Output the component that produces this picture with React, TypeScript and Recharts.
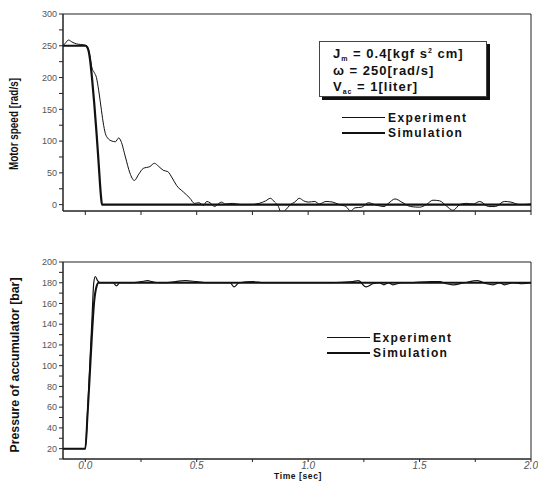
import React from "react";
import {
  LineChart,
  Line,
  XAxis,
  YAxis,
  Legend,
  ReferenceArea,
} from "recharts";

// top panel: motor speed
const speedExpTime = [
  -0.1, -0.09, -0.075, -0.06, -0.04, -0.02, 0.0, 0.01, 0.02, 0.03, 0.04, 0.05,
  0.06, 0.07, 0.08, 0.09, 0.1, 0.12, 0.135, 0.15, 0.16, 0.18, 0.2, 0.22, 0.24,
  0.26, 0.29, 0.31, 0.33, 0.35, 0.37, 0.39, 0.41, 0.44, 0.47, 0.49, 0.51, 0.53,
  0.545, 0.56, 0.58, 0.6, 0.61, 0.63, 0.66, 0.7, 0.74, 0.78, 0.81, 0.83, 0.85,
  0.865, 0.88, 0.9, 0.92, 0.94, 0.96, 0.98, 1.0, 1.03, 1.05, 1.08, 1.11, 1.14,
  1.17, 1.19, 1.21, 1.24, 1.27, 1.3, 1.34, 1.36, 1.39, 1.42, 1.46, 1.5, 1.53,
  1.56, 1.59, 1.62, 1.65, 1.68, 1.71, 1.74, 1.77, 1.81, 1.84, 1.88, 1.91, 1.95,
  2.0,
];
const speedExpValue = [
  250, 254, 259, 256, 253, 252, 251, 248, 235, 215, 208, 200, 180, 155, 130,
  112, 105, 100, 99, 105, 100, 75, 50, 38, 48, 57, 60, 65, 60, 54, 52, 42, 30,
  20, 10, 2, 3, -1, 5, 3, -3, 2, 4, 1, 2, 0, 0, 2, 6, 10, 4, -2, -13, -8, 0, 4,
  10, 6, 4, 5, 1, 5, 4, 0, -3, -10, -5, -4, 3, 0, -3, 2, 9, 4, -3, -4, 0, 7, 6,
  -2, -9, 0, 2, 1, 5, -3, -3, 5, 4, 0, 1,
];
const speedSimTime = [-0.1, 0.0, 0.01, 0.02, 0.03, 0.04, 0.05, 0.06, 0.07, 0.075, 2.0];
const speedSimValue = [250, 250, 247, 232, 200, 160, 115, 65, 15, 0, 0];

// bottom panel: accumulator pressure
const presExpTime = [
  -0.1, 0.0, 0.01, 0.02, 0.03, 0.038, 0.045, 0.055, 0.065, 0.1, 0.125, 0.14,
  0.155, 0.2, 0.25, 0.28, 0.3, 0.33, 0.36, 0.45, 0.5, 0.55, 0.6, 0.65, 0.667,
  0.69, 0.75, 0.8, 0.9, 1.0, 1.1, 1.2, 1.225, 1.26, 1.29, 1.32, 1.34, 1.36,
  1.38, 1.42, 1.45, 1.55, 1.59, 1.62, 1.65, 1.7, 1.76, 1.8, 1.83, 1.86, 1.88,
  1.92, 1.96, 2.0,
];
const presExpValue = [
  20, 20, 55, 100, 145, 180, 186, 182, 180, 180, 180, 177, 180, 180, 181, 182,
  181, 180, 180, 182, 181, 180, 180, 180, 176, 180, 181, 180, 180, 180, 180,
  181, 182, 176, 179, 180, 178, 180, 178, 180, 180, 181, 181, 179, 178, 180,
  182, 179, 178, 180, 178, 180, 179, 180,
];
const presSimTime = [-0.1, 0.0, 0.01, 0.02, 0.03, 0.04, 0.05, 0.06, 2.0];
const presSimValue = [20, 20, 52, 90, 130, 162, 176, 180, 180];

const xTicks = [0, 0.25, 0.5, 0.75, 1.0, 1.25, 1.5, 1.75, 2.0];
const speedTicks = [0, 25, 50, 75, 100, 125, 150, 175, 200, 225, 250, 275, 300];
const presTicks = [10, 20, 30, 40, 50, 60, 70, 80, 90, 100, 110, 120, 130, 140, 150, 160, 170, 180, 190, 200];

const zip = (t: number[], v: number[]) => t.map((x, i) => ({ t: x, v: v[i] }));

const sans = "Liberation Sans, Arial";
const tickFont = { fontSize: 9, fill: "#555", fontFamily: sans };

function LegendRows({ lineW }: { lineW: number }) {
  const row = (label: string, thick: number) => (
    <div style={{ display: "flex", alignItems: "center", height: 15 }}>
      <div style={{ width: lineW, borderTop: `${thick}px solid #111`, marginRight: 3 }} />
      <span style={{ fontFamily: sans, fontWeight: "bold", fontSize: 12, letterSpacing: 1.4, color: "#111" }}>
        {label}
      </span>
    </div>
  );
  return (
    <div>
      {row("Experiment", 1)}
      {row("Simulation", 2)}
    </div>
  );
}

function ParamBox() {
  const sub = { fontSize: 7, position: "relative" as const, top: 3 };
  const sup = { fontSize: 7, position: "relative" as const, top: -5 };
  const line = { height: 16.5, lineHeight: "16.5px", whiteSpace: "nowrap" as const };
  return (
    <div
      style={{
        position: "absolute",
        left: 319,
        top: 41,
        width: 168,
        height: 56,
        boxSizing: "border-box",
        paddingLeft: 13,
        paddingTop: 4,
        border: "1px solid #444",
        boxShadow: "3px 3px 0 #111",
        background: "#fff",
        fontFamily: sans,
        fontWeight: "bold",
        fontSize: 13,
        color: "#111",
        letterSpacing: 1,
      }}
    >
      <div style={line}>
        J<span style={sub}>m</span> = 0.4[kgf s<span style={sup}>2</span> cm]
      </div>
      <div style={line}>ω = 250[rad/s]</div>
      <div style={line}>
        V<span style={sub}>ac</span> = 1[liter]
      </div>
    </div>
  );
}

function YTitle({ text, x, y, len }: { text: string; x: number; y: number; len: number }) {
  return (
    <text
      x={x}
      y={y}
      transform={`rotate(-90 ${x} ${y})`}
      textAnchor="middle"
      dominantBaseline="central"
      fontFamily={sans}
      fontWeight="bold"
      fontSize={13}
      textLength={len}
      lengthAdjust="spacingAndGlyphs"
      fill="#111"
    >
      {text}
    </text>
  );
}

export default function App() {
  return (
    <div style={{ position: "absolute", left: 0, top: 0, width: 538, height: 484, background: "#fff" }}>
      <div style={{ position: "absolute", left: 0, top: 0 }}>
        <LineChart width={538} height={230} margin={{ top: 14, right: 7, bottom: 0, left: 0 }}>
          <XAxis
            type="number"
            dataKey="t"
            domain={[-0.1, 2]}
            ticks={xTicks}
            tickFormatter={() => ""}
            height={19}
            tickSize={4}
            stroke="#222"
            allowDataOverflow
          />
          <YAxis
            type="number"
            domain={[-10, 300]}
            ticks={speedTicks}
            tickFormatter={(v: number) => (v % 50 === 0 ? String(v) : "")}
            width={63}
            tickSize={4}
            stroke="#222"
            tick={tickFont}
            allowDataOverflow
            label={{ content: () => <YTitle text="Motor speed [rad/s]" x={13} y={124} len={92} /> }}
          />
          <ReferenceArea x1={-0.1} x2={2} y1={-10} y2={300} fill="none" stroke="#222" ifOverflow="visible" />
          <Line
            data={zip(speedExpTime, speedExpValue)}
            dataKey="v"
            type="monotone"
            stroke="#111"
            strokeWidth={1}
            dot={false}
            isAnimationActive={false}
          />
          <Line
            data={zip(speedSimTime, speedSimValue)}
            dataKey="v"
            type="monotone"
            stroke="#111"
            strokeWidth={2.2}
            dot={false}
            isAnimationActive={false}
          />
          <Legend
            layout="horizontal"
            verticalAlign="middle"
            align="center"
            wrapperStyle={{ position: "absolute", left: 0, top: 0, width: 538, height: 0 }}
            content={() => (
              <div>
                <ParamBox />
                <div style={{ position: "absolute", left: 342, top: 110 }}>
                  <LegendRows lineW={43} />
                </div>
              </div>
            )}
          />
        </LineChart>
      </div>
      <div style={{ position: "absolute", left: 0, top: 230 }}>
        <LineChart width={538} height={254} margin={{ top: 32, right: 7, bottom: 0, left: 0 }}>
          <XAxis
            type="number"
            dataKey="t"
            domain={[-0.1, 2]}
            ticks={xTicks}
            tickFormatter={(v: number) => (Math.abs(v * 2 - Math.round(v * 2)) < 1e-6 ? v.toFixed(1) : "")}
            height={25}
            tickSize={3}
            tickMargin={0}
            stroke="#222"
            tick={{ ...tickFont, fontSize: 10, fontStyle: "italic" }}
            allowDataOverflow
            label={{
              content: () => (
                <text x={298} y={246} textAnchor="middle" dominantBaseline="central" fontFamily={sans} fontWeight="bold" fontSize={8.5} letterSpacing={0.6} fill="#111">
                  Time [sec]
                </text>
              ),
            }}
          />
          <YAxis
            type="number"
            domain={[10, 200]}
            ticks={presTicks}
            tickFormatter={(v: number) => (v % 20 === 0 ? String(v) : "")}
            width={63}
            tickSize={4}
            stroke="#222"
            tick={tickFont}
            allowDataOverflow
            label={{ content: () => <YTitle text="Pressure of accumulator [bar]" x={14} y={135} len={175} /> }}
          />
          <ReferenceArea x1={-0.1} x2={2} y1={10} y2={200} fill="none" stroke="#222" ifOverflow="visible" />
          <Line
            data={zip(presExpTime, presExpValue)}
            dataKey="v"
            type="monotone"
            stroke="#111"
            strokeWidth={1.2}
            dot={false}
            isAnimationActive={false}
          />
          <Line
            data={zip(presSimTime, presSimValue)}
            dataKey="v"
            type="monotone"
            stroke="#111"
            strokeWidth={2}
            dot={false}
            isAnimationActive={false}
          />
          <Legend
            layout="horizontal"
            verticalAlign="middle"
            align="center"
            wrapperStyle={{ position: "absolute", left: 0, top: 0, width: 538, height: 0 }}
            content={() => (
              <div style={{ position: "absolute", left: 327, top: 100 }}>
                <LegendRows lineW={43} />
              </div>
            )}
          />
        </LineChart>
      </div>
    </div>
  );
}
